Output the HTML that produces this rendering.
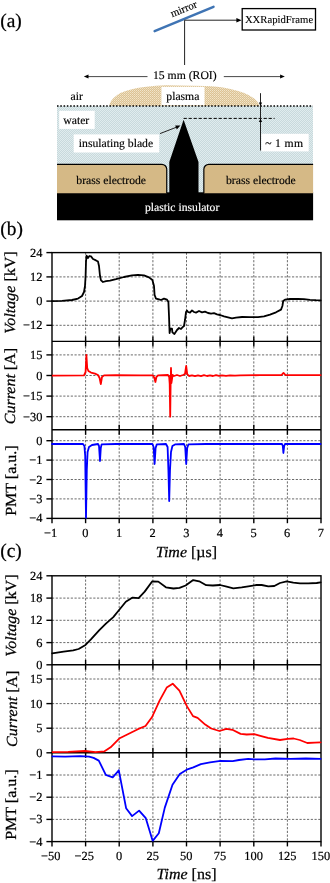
<!DOCTYPE html>
<html><head><meta charset="utf-8"><title>figure</title>
<style>
html,body{margin:0;padding:0;background:#fff}
svg{display:block}
text{font-family:"Liberation Serif",serif;fill:#000;stroke:#000;stroke-width:0.25px;text-rendering:geometricPrecision}
.tk{font-size:12.4px;stroke-width:0.2px}
.ax{font-size:15.4px}
.it{font-style:italic}
.d{font-size:11.7px;stroke-width:0.15px}
.pl{font-size:19.4px}
.fr{stroke:#000;stroke-width:1.4;fill:none}
.gr{stroke:#3a3a3a;stroke-width:0.75;stroke-dasharray:2.2 1.55;fill:none}
.cv{fill:none;stroke-width:1.8;stroke-linejoin:round;stroke-linecap:round}
</style></head><body>
<svg width="330" height="883" viewBox="0 0 330 883">
<defs>
<pattern id="pw" width="2" height="2" patternUnits="userSpaceOnUse"><rect width="2" height="2" fill="#c8d9dc"/><rect width="1" height="1" fill="#e0ecee"/><rect x="1" y="1" width="1" height="1" fill="#e0ecee"/></pattern>
<pattern id="pp" width="2" height="2" patternUnits="userSpaceOnUse"><rect width="2" height="2" fill="#dcc294"/><rect width="1" height="1" fill="#f2e6ca"/><rect x="1" y="1" width="1" height="1" fill="#ead9b6"/></pattern>
</defs>
<rect width="330" height="883" fill="#fff"/>

<text class="pl" x="0.3" y="27">(a)</text>
<text class="pl" x="0.3" y="235">(b)</text>
<text class="pl" x="0.3" y="557">(c)</text>
<line x1="154.6" y1="31.1" x2="213.5" y2="6.8" stroke="#3f74b4" stroke-width="2.5" stroke-linecap="round"/>
<text class="d" style="font-size:10.8px" transform="translate(172.3,17.2) rotate(-22)">mirror</text>
<path d="M184.6,65 V20.2 H237" stroke="#222" stroke-width="1" fill="none"/>
<path d="M241.6,20.2 l-5.2,-2.3 v4.6 z" fill="#000"/>
<rect x="242.2" y="8.6" width="73.3" height="21.4" fill="#fff" stroke="#000" stroke-width="1.3"/>
<text x="244.9" y="22.8" style="font-size:10.7px;stroke-width:0.1px">XXRapidFrame</text>
<line x1="87" y1="76.6" x2="147.5" y2="76.6" stroke="#333" stroke-width="0.9"/>
<path d="M83.8,76.6 l4.7,-2 v4 z" fill="#000"/>
<line x1="223.8" y1="76.6" x2="281.5" y2="76.6" stroke="#333" stroke-width="0.9"/>
<path d="M284.8,76.6 l-4.7,-2 v4 z" fill="#000"/>
<text class="d" x="153" y="79.3">15 mm (ROI)</text>
<path d="M109.2,106 C110.5,98.5 118,93.2 128,90.3 C140,87 152,85.6 166,85.3 L205,85.9 C222,86.4 236,89.3 247,94.3 C254,97.8 258.3,101.2 259.5,106 Z" fill="url(#pp)"/>
<rect x="161.4" y="86.9" width="43.1" height="18.4" fill="#fff"/>
<text class="d" x="166.3" y="99.6">plasma</text>
<text class="d" x="70.5" y="100.3">air</text>
<rect x="57" y="106" width="256" height="87" fill="url(#pw)"/>
<line x1="57" y1="106" x2="313" y2="106" stroke="#000" stroke-width="1.6" stroke-dasharray="1.55 1.73"/>
<rect x="59.2" y="110.8" width="35.5" height="18.1" fill="#fff"/>
<text class="d" x="63.3" y="123.6">water</text>
<rect x="73.7" y="134.4" width="85.5" height="18.1" fill="#fff"/>
<text class="d" x="78.8" y="147.3">insulating blade</text>
<rect x="261.4" y="133.8" width="47.3" height="17.6" fill="#fff"/>
<text class="d" x="265.2" y="147" textLength="37.8">~ 1 mm</text>
<line x1="183.6" y1="118.4" x2="274.6" y2="118.4" stroke="#000" stroke-width="1" stroke-dasharray="3.2 1.8"/>
<line x1="260.5" y1="93.2" x2="260.5" y2="150.5" stroke="#222" stroke-width="1"/>
<path d="M260.5,106 l-1.6,-3.6 h3.2 z" fill="#000"/>
<path d="M260.5,118.5 l-1.6,3.6 h3.2 z" fill="#000"/>
<line x1="160" y1="133.6" x2="177" y2="127" stroke="#222" stroke-width="1"/>
<path d="M180.4,125.6 l-5.2,0 l1.6,3.9 z" fill="#000"/>
<rect x="57" y="192.3" width="256.1" height="28" fill="#000"/>
<path d="M183.6,119.8 L169.3,162 V194 H198.5 V162 Z" fill="#000"/>
<path d="M57,164.3 H161.75 a5,5 0 0 1 5,5 V193.3 H57 Z" fill="#d5b986"/>
<path d="M57,164.3 H161.75 a5,5 0 0 1 5,5 V193.3" fill="none" stroke="#000" stroke-width="1.2"/>
<path d="M313.1,164.3 H208.85 a5,5 0 0 0 -5,5 V193.3 H313.1 Z" fill="#d5b986"/>
<path d="M313.1,164.3 H208.85 a5,5 0 0 0 -5,5 V193.3" fill="none" stroke="#000" stroke-width="1.2"/>
<text class="d" x="76.3" y="184">brass electrode</text>
<text class="d" x="226" y="184">brass electrode</text>
<text class="d" x="145" y="211.1" style="fill:#fff;stroke:#fff">plastic insulator</text>
<line class="gr" x1="85.6" y1="252.6" x2="85.6" y2="518.4"/>
<line class="gr" x1="119.2" y1="252.6" x2="119.2" y2="518.4"/>
<line class="gr" x1="152.9" y1="252.6" x2="152.9" y2="518.4"/>
<line class="gr" x1="186.5" y1="252.6" x2="186.5" y2="518.4"/>
<line class="gr" x1="220.1" y1="252.6" x2="220.1" y2="518.4"/>
<line class="gr" x1="253.8" y1="252.6" x2="253.8" y2="518.4"/>
<line class="gr" x1="287.4" y1="252.6" x2="287.4" y2="518.4"/>
<line class="gr" x1="52.0" y1="276.9" x2="321.0" y2="276.9"/>
<line class="gr" x1="52.0" y1="301.1" x2="321.0" y2="301.1"/>
<line class="gr" x1="52.0" y1="325.3" x2="321.0" y2="325.3"/>
<line class="gr" x1="52.0" y1="354.9" x2="321.0" y2="354.9"/>
<line class="gr" x1="52.0" y1="375.5" x2="321.0" y2="375.5"/>
<line class="gr" x1="52.0" y1="396.1" x2="321.0" y2="396.1"/>
<line class="gr" x1="52.0" y1="416.7" x2="321.0" y2="416.7"/>
<line class="gr" x1="52.0" y1="440.7" x2="321.0" y2="440.7"/>
<line class="gr" x1="52.0" y1="460.1" x2="321.0" y2="460.1"/>
<line class="gr" x1="52.0" y1="479.5" x2="321.0" y2="479.5"/>
<line class="gr" x1="52.0" y1="498.9" x2="321.0" y2="498.9"/>
<rect class="fr" x="52.0" y="252.6" width="269.0" height="265.79999999999995"/>
<line class="fr" x1="52.0" y1="341.4" x2="321.0" y2="341.4"/>
<line class="fr" x1="85.6" y1="336.4" x2="85.6" y2="346.4"/>
<line class="fr" x1="119.2" y1="336.4" x2="119.2" y2="346.4"/>
<line class="fr" x1="152.9" y1="336.4" x2="152.9" y2="346.4"/>
<line class="fr" x1="186.5" y1="336.4" x2="186.5" y2="346.4"/>
<line class="fr" x1="220.1" y1="336.4" x2="220.1" y2="346.4"/>
<line class="fr" x1="253.8" y1="336.4" x2="253.8" y2="346.4"/>
<line class="fr" x1="287.4" y1="336.4" x2="287.4" y2="346.4"/>
<line class="fr" x1="52.0" y1="429.8" x2="321.0" y2="429.8"/>
<line class="fr" x1="85.6" y1="424.8" x2="85.6" y2="434.8"/>
<line class="fr" x1="119.2" y1="424.8" x2="119.2" y2="434.8"/>
<line class="fr" x1="152.9" y1="424.8" x2="152.9" y2="434.8"/>
<line class="fr" x1="186.5" y1="424.8" x2="186.5" y2="434.8"/>
<line class="fr" x1="220.1" y1="424.8" x2="220.1" y2="434.8"/>
<line class="fr" x1="253.8" y1="424.8" x2="253.8" y2="434.8"/>
<line class="fr" x1="287.4" y1="424.8" x2="287.4" y2="434.8"/>
<path class="cv" stroke="#000" d="M52.0,301.2 L62.0,300.8 L72.0,300.0 L78.0,298.6 L82.0,296.0 L84.0,292.0 L85.0,286.0 L85.6,276.0 L86.0,262.0 L86.6,255.6 L88.0,258.0 L89.4,256.0 L91.0,256.4 L93.0,259.0 L96.0,260.4 L98.0,261.6 L99.0,266.0 L100.0,276.0 L101.0,280.4 L103.0,282.0 L106.0,281.2 L110.0,280.6 L116.0,279.2 L124.0,277.0 L132.0,275.4 L138.0,274.8 L144.0,275.4 L149.0,277.4 L152.4,280.0 L154.0,286.0 L154.6,295.0 L156.0,298.6 L159.0,299.4 L161.0,300.0 L164.0,298.6 L167.0,299.6 L168.4,302.0 L169.0,316.0 L169.6,333.0 L170.4,328.6 L172.0,328.6 L172.4,332.4 L174.4,334.0 L177.0,330.0 L179.0,328.0 L181.0,329.0 L182.4,327.4 L184.0,326.0 L185.0,320.0 L186.0,312.0 L187.0,310.6 L188.0,312.0 L190.0,312.6 L192.0,310.4 L194.0,312.0 L196.0,312.6 L199.0,311.0 L202.0,312.4 L205.0,311.6 L208.0,313.0 L211.0,313.6 L214.0,313.2 L217.0,314.4 L220.0,315.0 L224.0,316.4 L228.0,317.4 L232.0,318.4 L236.0,317.6 L242.0,317.0 L250.0,317.2 L258.0,317.2 L264.0,316.4 L270.0,314.6 L276.0,312.3 L281.0,309.6 L282.4,306.0 L283.2,301.0 L285.0,299.6 L290.0,299.0 L298.0,299.0 L304.0,299.2 L310.0,299.8 L316.0,300.2 L320.6,300.4"/>
<path class="cv" stroke="#f00" d="M52.0,375.6 L84.0,375.4 L85.6,372.0 L86.4,355.0 L87.2,368.0 L88.4,371.0 L91.0,372.6 L95.0,373.6 L98.0,375.0 L99.6,378.0 L100.8,384.0 L102.0,377.0 L104.0,375.4 L116.0,375.2 L140.0,375.4 L153.0,375.4 L154.4,378.0 L155.4,382.0 L156.4,377.0 L158.0,375.4 L168.0,375.0 L169.2,377.0 L169.7,384.0 L170.2,416.7 L170.6,385.0 L171.0,368.0 L171.4,383.0 L172.0,379.0 L172.6,375.0 L174.0,376.0 L177.0,375.0 L180.0,376.0 L183.0,375.0 L185.0,374.0 L186.2,366.0 L187.2,374.0 L189.0,376.0 L192.0,375.4 L195.0,376.2 L198.0,375.4 L201.0,376.1 L204.0,375.2 L207.0,376.0 L210.0,375.3 L213.0,376.0 L216.0,375.2 L219.0,375.9 L222.0,375.3 L226.0,375.8 L230.0,375.3 L235.0,375.6 L240.0,375.3 L260.0,375.2 L281.5,375.0 L283.5,372.9 L285.5,375.0 L300.0,375.2 L320.6,375.2"/>
<path class="cv" stroke="#00f" d="M52.0,444.0 L83.0,444.0 L84.4,446.0 L85.2,456.0 L86.0,518.0 L86.8,470.0 L87.6,452.0 L89.0,447.0 L92.0,445.0 L98.0,444.0 L99.0,446.0 L100.0,461.0 L100.8,448.0 L101.6,444.4 L116.0,444.0 L152.4,444.0 L153.6,447.0 L154.6,464.0 L155.6,448.0 L156.8,444.4 L166.0,444.0 L167.6,447.0 L168.4,470.0 L169.2,501.0 L170.0,470.0 L171.0,452.0 L172.4,446.0 L175.0,444.4 L184.0,444.0 L185.2,447.0 L186.2,464.0 L187.2,448.0 L188.4,444.4 L206.0,444.0 L282.0,444.0 L282.8,446.0 L283.4,453.0 L284.2,446.0 L285.0,444.0 L320.6,444.0"/>
<line class="fr" x1="52.0" y1="518.4" x2="52.0" y2="523.1999999999999"/>
<text class="tk" x="50.7" y="536.5" text-anchor="middle">−1</text>
<line class="fr" x1="85.6" y1="518.4" x2="85.6" y2="523.1999999999999"/>
<text class="tk" x="85.4" y="536.5" text-anchor="middle">0</text>
<line class="fr" x1="119.2" y1="518.4" x2="119.2" y2="523.1999999999999"/>
<text class="tk" x="119.0" y="536.5" text-anchor="middle">1</text>
<line class="fr" x1="152.9" y1="518.4" x2="152.9" y2="523.1999999999999"/>
<text class="tk" x="152.7" y="536.5" text-anchor="middle">2</text>
<line class="fr" x1="186.5" y1="518.4" x2="186.5" y2="523.1999999999999"/>
<text class="tk" x="186.3" y="536.5" text-anchor="middle">3</text>
<line class="fr" x1="220.1" y1="518.4" x2="220.1" y2="523.1999999999999"/>
<text class="tk" x="219.9" y="536.5" text-anchor="middle">4</text>
<line class="fr" x1="253.8" y1="518.4" x2="253.8" y2="523.1999999999999"/>
<text class="tk" x="253.6" y="536.5" text-anchor="middle">5</text>
<line class="fr" x1="287.4" y1="518.4" x2="287.4" y2="523.1999999999999"/>
<text class="tk" x="287.2" y="536.5" text-anchor="middle">6</text>
<line class="fr" x1="321.0" y1="518.4" x2="321.0" y2="523.1999999999999"/>
<text class="tk" x="320.8" y="536.5" text-anchor="middle">7</text>
<line class="fr" x1="46.4" y1="252.6" x2="52.0" y2="252.6"/>
<text class="tk" x="42.4" y="256.6" text-anchor="end">24</text>
<line class="fr" x1="46.4" y1="276.9" x2="52.0" y2="276.9"/>
<text class="tk" x="42.4" y="280.9" text-anchor="end">12</text>
<line class="fr" x1="46.4" y1="301.1" x2="52.0" y2="301.1"/>
<text class="tk" x="42.4" y="305.1" text-anchor="end">0</text>
<line class="fr" x1="46.4" y1="325.3" x2="52.0" y2="325.3"/>
<text class="tk" x="42.4" y="329.3" text-anchor="end">−12</text>
<text class="ax" text-anchor="middle" transform="translate(15.2,292.5) rotate(-90) scale(1.04,1)"><tspan class="it">Voltage</tspan> [kV]</text>
<line class="fr" x1="46.4" y1="354.9" x2="52.0" y2="354.9"/>
<text class="tk" x="42.4" y="358.9" text-anchor="end">15</text>
<line class="fr" x1="46.4" y1="375.5" x2="52.0" y2="375.5"/>
<text class="tk" x="42.4" y="379.5" text-anchor="end">0</text>
<line class="fr" x1="46.4" y1="396.1" x2="52.0" y2="396.1"/>
<text class="tk" x="42.4" y="400.1" text-anchor="end">−15</text>
<line class="fr" x1="46.4" y1="416.7" x2="52.0" y2="416.7"/>
<text class="tk" x="42.4" y="420.7" text-anchor="end">−30</text>
<text class="ax" text-anchor="middle" transform="translate(15.2,386.1) rotate(-90) scale(1.04,1)"><tspan class="it">Current</tspan> [A]</text>
<line class="fr" x1="46.4" y1="440.7" x2="52.0" y2="440.7"/>
<text class="tk" x="42.4" y="444.7" text-anchor="end">0</text>
<line class="fr" x1="46.4" y1="460.1" x2="52.0" y2="460.1"/>
<text class="tk" x="42.4" y="464.1" text-anchor="end">−1</text>
<line class="fr" x1="46.4" y1="479.5" x2="52.0" y2="479.5"/>
<text class="tk" x="42.4" y="483.5" text-anchor="end">−2</text>
<line class="fr" x1="46.4" y1="498.9" x2="52.0" y2="498.9"/>
<text class="tk" x="42.4" y="502.9" text-anchor="end">−3</text>
<line class="fr" x1="46.4" y1="518.4" x2="52.0" y2="518.4"/>
<text class="tk" x="42.4" y="522.4" text-anchor="end">−4</text>
<text class="ax" text-anchor="middle" transform="translate(15.9,480.6) rotate(-90) scale(1.04,1)">PMT [a.u.]</text>
<text class="ax" text-anchor="middle" transform="translate(186.5,557.4) scale(1.04,1)"><tspan class="it">Time</tspan> [µs]</text>
<line class="gr" x1="85.6" y1="575.8" x2="85.6" y2="841.6"/>
<line class="gr" x1="119.2" y1="575.8" x2="119.2" y2="841.6"/>
<line class="gr" x1="152.9" y1="575.8" x2="152.9" y2="841.6"/>
<line class="gr" x1="186.5" y1="575.8" x2="186.5" y2="841.6"/>
<line class="gr" x1="220.1" y1="575.8" x2="220.1" y2="841.6"/>
<line class="gr" x1="253.8" y1="575.8" x2="253.8" y2="841.6"/>
<line class="gr" x1="287.4" y1="575.8" x2="287.4" y2="841.6"/>
<line class="gr" x1="52.0" y1="598.1" x2="321.0" y2="598.1"/>
<line class="gr" x1="52.0" y1="620.3" x2="321.0" y2="620.3"/>
<line class="gr" x1="52.0" y1="642.6" x2="321.0" y2="642.6"/>
<line class="gr" x1="52.0" y1="679.0" x2="321.0" y2="679.0"/>
<line class="gr" x1="52.0" y1="703.6" x2="321.0" y2="703.6"/>
<line class="gr" x1="52.0" y1="728.2" x2="321.0" y2="728.2"/>
<line class="gr" x1="52.0" y1="775.0" x2="321.0" y2="775.0"/>
<line class="gr" x1="52.0" y1="797.2" x2="321.0" y2="797.2"/>
<line class="gr" x1="52.0" y1="819.4" x2="321.0" y2="819.4"/>
<rect class="fr" x="52.0" y="575.8" width="269.0" height="265.80000000000007"/>
<line class="fr" x1="52.0" y1="664.8" x2="321.0" y2="664.8"/>
<line class="fr" x1="85.6" y1="659.8" x2="85.6" y2="669.8"/>
<line class="fr" x1="119.2" y1="659.8" x2="119.2" y2="669.8"/>
<line class="fr" x1="152.9" y1="659.8" x2="152.9" y2="669.8"/>
<line class="fr" x1="186.5" y1="659.8" x2="186.5" y2="669.8"/>
<line class="fr" x1="220.1" y1="659.8" x2="220.1" y2="669.8"/>
<line class="fr" x1="253.8" y1="659.8" x2="253.8" y2="669.8"/>
<line class="fr" x1="287.4" y1="659.8" x2="287.4" y2="669.8"/>
<line class="fr" x1="52.0" y1="752.8" x2="321.0" y2="752.8"/>
<line class="fr" x1="85.6" y1="747.8" x2="85.6" y2="757.8"/>
<line class="fr" x1="119.2" y1="747.8" x2="119.2" y2="757.8"/>
<line class="fr" x1="152.9" y1="747.8" x2="152.9" y2="757.8"/>
<line class="fr" x1="186.5" y1="747.8" x2="186.5" y2="757.8"/>
<line class="fr" x1="220.1" y1="747.8" x2="220.1" y2="757.8"/>
<line class="fr" x1="253.8" y1="747.8" x2="253.8" y2="757.8"/>
<line class="fr" x1="287.4" y1="747.8" x2="287.4" y2="757.8"/>
<path class="cv" stroke="#000" d="M52.2,653.4 L63.6,651.7 L73.2,650.4 L78.6,649.0 L85.5,644.9 L90.9,639.4 L99.1,630.4 L105.9,623.6 L113.3,617.1 L119.5,609.5 L125.8,601.8 L132.6,597.6 L138.6,598.2 L144.7,591.6 L152.3,581.3 L158.3,581.6 L165.9,587.3 L173.5,588.5 L179.5,587.9 L185.6,585.5 L193.2,580.1 L199.2,581.3 L206.2,585.2 L212.9,585.5 L220.0,585.0 L226.7,586.7 L233.3,588.3 L241.7,587.3 L248.3,586.3 L256.7,585.0 L261.7,585.0 L268.3,586.3 L274.3,586.0 L280.0,583.0 L286.7,581.3 L293.3,582.7 L300.0,583.3 L308.3,583.3 L316.7,583.0 L320.6,582.3"/>
<path class="cv" stroke="#f00" d="M52.4,752.2 L68.2,751.9 L84.8,751.0 L95.5,752.2 L104.5,751.3 L110.6,747.3 L119.7,738.2 L128.8,733.7 L137.9,729.2 L145.5,726.0 L152.1,717.0 L159.7,700.4 L166.7,687.6 L172.7,683.7 L179.4,690.7 L187.0,706.4 L193.0,716.1 L197.6,717.9 L205.2,724.6 L211.2,728.5 L219.4,731.0 L226.4,728.8 L232.4,729.8 L240.6,733.9 L246.7,734.5 L254.2,734.2 L260.3,735.8 L267.9,737.9 L280.0,740.0 L287.6,738.8 L293.6,738.5 L299.7,740.0 L307.3,743.0 L314.8,742.7 L320.6,742.4"/>
<path class="cv" stroke="#00f" d="M52.4,756.4 L65.2,756.7 L80.3,756.1 L89.1,756.7 L93.6,757.9 L98.8,760.6 L105.8,774.8 L112.7,777.3 L118.8,770.3 L126.1,808.2 L132.1,816.1 L139.1,810.6 L145.8,818.2 L152.7,840.9 L158.8,833.3 L164.8,807.6 L172.5,784.8 L179.8,774.0 L186.7,769.7 L193.3,767.3 L200.9,764.2 L210.0,762.4 L220.6,760.9 L232.7,761.2 L239.0,760.0 L248.2,758.8 L254.2,759.4 L264.8,759.4 L275.5,758.5 L290.6,758.8 L305.8,758.5 L320.6,758.8"/>
<line class="fr" x1="52.0" y1="841.6" x2="52.0" y2="846.4"/>
<text class="tk" x="50.7" y="859.6" text-anchor="middle">−50</text>
<line class="fr" x1="85.6" y1="841.6" x2="85.6" y2="846.4"/>
<text class="tk" x="84.3" y="859.6" text-anchor="middle">−25</text>
<line class="fr" x1="119.2" y1="841.6" x2="119.2" y2="846.4"/>
<text class="tk" x="119.0" y="859.6" text-anchor="middle">0</text>
<line class="fr" x1="152.9" y1="841.6" x2="152.9" y2="846.4"/>
<text class="tk" x="152.7" y="859.6" text-anchor="middle">25</text>
<line class="fr" x1="186.5" y1="841.6" x2="186.5" y2="846.4"/>
<text class="tk" x="186.3" y="859.6" text-anchor="middle">50</text>
<line class="fr" x1="220.1" y1="841.6" x2="220.1" y2="846.4"/>
<text class="tk" x="219.9" y="859.6" text-anchor="middle">75</text>
<line class="fr" x1="253.8" y1="841.6" x2="253.8" y2="846.4"/>
<text class="tk" x="253.6" y="859.6" text-anchor="middle">100</text>
<line class="fr" x1="287.4" y1="841.6" x2="287.4" y2="846.4"/>
<text class="tk" x="287.2" y="859.6" text-anchor="middle">125</text>
<line class="fr" x1="321.0" y1="841.6" x2="321.0" y2="846.4"/>
<text class="tk" x="320.8" y="859.6" text-anchor="middle">150</text>
<line class="fr" x1="46.4" y1="575.8" x2="52.0" y2="575.8"/>
<text class="tk" x="42.4" y="579.8" text-anchor="end">24</text>
<line class="fr" x1="46.4" y1="598.1" x2="52.0" y2="598.1"/>
<text class="tk" x="42.4" y="602.1" text-anchor="end">18</text>
<line class="fr" x1="46.4" y1="620.3" x2="52.0" y2="620.3"/>
<text class="tk" x="42.4" y="624.3" text-anchor="end">12</text>
<line class="fr" x1="46.4" y1="642.6" x2="52.0" y2="642.6"/>
<text class="tk" x="42.4" y="646.6" text-anchor="end">6</text>
<line class="fr" x1="46.4" y1="664.8" x2="52.0" y2="664.8"/>
<text class="tk" x="42.4" y="668.8" text-anchor="end">0</text>
<text class="ax" text-anchor="middle" transform="translate(16.3,615.6) rotate(-90) scale(1.04,1)"><tspan class="it">Voltage</tspan> [kV]</text>
<line class="fr" x1="46.4" y1="679.0" x2="52.0" y2="679.0"/>
<text class="tk" x="42.4" y="683.0" text-anchor="end">15</text>
<line class="fr" x1="46.4" y1="703.6" x2="52.0" y2="703.6"/>
<text class="tk" x="42.4" y="707.6" text-anchor="end">10</text>
<line class="fr" x1="46.4" y1="728.2" x2="52.0" y2="728.2"/>
<text class="tk" x="42.4" y="732.2" text-anchor="end">5</text>
<line class="fr" x1="46.4" y1="752.8" x2="52.0" y2="752.8"/>
<text class="tk" x="42.4" y="756.8" text-anchor="end">0</text>
<text class="ax" text-anchor="middle" transform="translate(16.7,708.8) rotate(-90) scale(1.04,1)"><tspan class="it">Current</tspan> [A]</text>
<line class="fr" x1="46.4" y1="775.0" x2="52.0" y2="775.0"/>
<text class="tk" x="42.4" y="779.0" text-anchor="end">−1</text>
<line class="fr" x1="46.4" y1="797.2" x2="52.0" y2="797.2"/>
<text class="tk" x="42.4" y="801.2" text-anchor="end">−2</text>
<line class="fr" x1="46.4" y1="819.4" x2="52.0" y2="819.4"/>
<text class="tk" x="42.4" y="823.4" text-anchor="end">−3</text>
<line class="fr" x1="46.4" y1="841.6" x2="52.0" y2="841.6"/>
<text class="tk" x="42.4" y="845.6" text-anchor="end">−4</text>
<text class="ax" text-anchor="middle" transform="translate(16.2,804.6) rotate(-90) scale(1.04,1)">PMT [a.u.]</text>
<text class="ax" text-anchor="middle" transform="translate(186.5,879.4) scale(1.04,1)"><tspan class="it">Time</tspan> [ns]</text>
</svg></body></html>
